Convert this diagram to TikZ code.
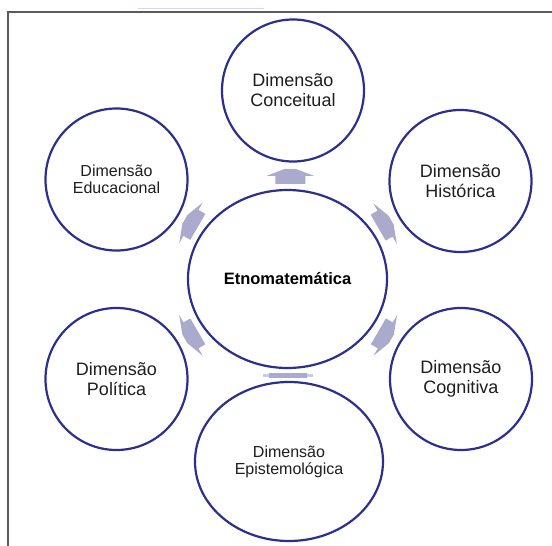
\documentclass[tikz,border=0pt]{standalone}
\usepackage{fontspec}
\setmainfont{Liberation Sans}
\usetikzlibrary{shapes.geometric,calc}
\definecolor{ringblue}{RGB}{46,46,140}
\definecolor{arrowlav}{RGB}{170,170,204}
\definecolor{labelgray}{RGB}{30,30,30}
\definecolor{framegray}{RGB}{90,90,90}
\definecolor{pinkline}{RGB}{240,200,240}
\tikzset{
  dimcircle/.style={circle, draw=ringblue, line width=2.2pt, fill=white,
    minimum size=142pt, inner sep=0pt, align=center, text=labelgray,
    font=\fontsize{18}{20}\selectfont},
  smalltext/.style={font=\fontsize{16}{17}\selectfont},
  hubellipse/.style={ellipse, draw=ringblue, line width=2.2pt, fill=white,
    inner sep=0pt, align=center},
  outarrow/.style={fill=arrowlav}
}
% block arrow pointing away from the hub; #1 = centre, #2 = rotation
\newcommand\radialarrow[2]{%
  \fill[outarrow, shift={#1}, rotate=#2]
    (-15,8) -- (-15,0) -- (-23.5,0) -- (-5,-7) -- (5,-7) -- (23.5,0)
    -- (15,0) -- (15,8) -- cycle;}
\begin{document}
\begin{tikzpicture}[x=1pt,y=-1pt]
\useasboundingbox (0,0) rectangle (552,546);
\draw[pinkline, line width=1pt] (138,8) -- (264,8);
\draw[framegray, line width=1.5pt] (8,546) -- (8,12) -- (552,12);

% hub
\node[hubellipse, minimum width=199pt, minimum height=178pt, text=black,
  font=\bfseries\fontsize{16.5}{18}\selectfont] (etno) at (287.5,279) {Etnomatemática};

% surrounding dimensions
\node[dimcircle] (conc) at (293,90.5) {Dimensão\\Conceitual};
\node[dimcircle] (hist) at (460.5,181) {Dimensão\\Histórica};
\node[dimcircle] (cogn) at (461,379) {Dimensão\\Cognitiva};
\node[dimcircle] (pol) at (116.5,379) {Dimensão\\Política};
\node[dimcircle, smalltext] (educ) at (116.5,179.5) {Dimensão\\Educacional};
\node[hubellipse, minimum width=188pt, minimum height=159pt, text=labelgray,
  smalltext] (epis) at (289,461.5) {Dimensão\\Epistemológica};

% arrows from the hub towards each dimension
\radialarrow{($(etno.north)!0.5!(conc.south)$)}{0}
\radialarrow{($(etno.150)!0.5!(educ.-30)$)}{60}
\radialarrow{($(etno.30)!0.5!(hist.210)$)}{-60}
\radialarrow{($(etno.-30)!0.5!(cogn.150)$)}{-120}
\radialarrow{($(etno.210)!0.5!(pol.30)$)}{120}
\coordinate (lowgap) at ($(etno.south)!0.5!(epis.north)$);
\fill[arrowlav!60, shift={(lowgap)}] (-25,-1.5) rectangle (25,1.5);
\fill[arrowlav, shift={(lowgap)}] (-19,-2.5) rectangle (19,2.5);
\end{tikzpicture}
\end{document}
